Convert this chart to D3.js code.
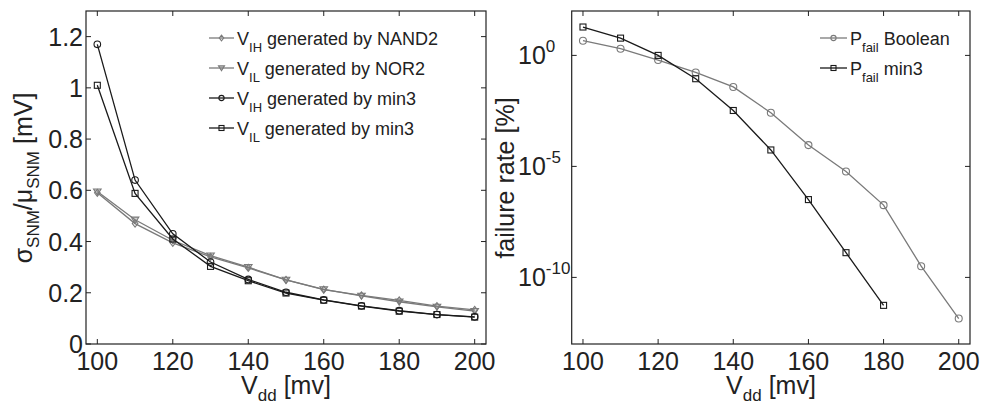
<!DOCTYPE html>
<html>
<head>
<meta charset="utf-8">
<script src="https://cdn.jsdelivr.net/npm/d3@7"></script>
<style>
  html, body { margin: 0; padding: 0; background: #fff; }
  svg { display: block; font-family: "Liberation Sans", Arial, Helvetica, sans-serif; }
</style>
</head>
<body>
<svg id="fig" width="981" height="403"></svg>
<script>
// Supply voltage sweep [mV]
const vdd = [100, 110, 120, 130, 140, 150, 160, 170, 180, 190, 200];
const vddMin3Fail = [100, 110, 120, 130, 140, 150, 160, 170, 180];

// Normalised SNM spread sigma/mu
const nand2VIH = [0.59, 0.47, 0.395, 0.34, 0.297, 0.25, 0.212, 0.19, 0.17, 0.148, 0.133];
const nor2VIL  = [0.595, 0.485, 0.405, 0.345, 0.30, 0.25, 0.213, 0.188, 0.165, 0.145, 0.128];
const min3VIH  = [1.17, 0.64, 0.43, 0.32, 0.252, 0.202, 0.172, 0.149, 0.13, 0.115, 0.106];
const min3VIL  = [1.01, 0.588, 0.41, 0.303, 0.247, 0.199, 0.171, 0.148, 0.128, 0.115, 0.105];

// Failure rate [%]
const pfailBoolean = [4.6, 2.0, 0.62, 0.17, 0.038, 2.6e-3, 9.1e-5, 5.9e-6, 1.8e-7, 3.2e-10, 1.4e-12];
const pfailMin3    = [19, 6.0, 1.0, 0.089, 3.3e-3, 5.5e-5, 3.2e-7, 1.3e-9, 5.5e-12];

// Tick values
const xTicks = [100, 120, 140, 160, 180, 200];
const yTicksLin = [0, 0.2, 0.4, 0.6, 0.8, 1, 1.2];
const yTicksLog = [1e0, 1e-5, 1e-10];
const logExponents = ["0", "-5", "-10"];

const GREY = "#7a7a7a";
const BLACK = "#1a1a1a";
const AXIS = "#222";
const TICK_FS = 25;
const LABEL_FS = 25;
const SUB_FS = 17;
const LEG_FS = 18;
const LEG_SUB_FS = 13;

const svg = d3.select("#fig");

// ---------- helpers ----------
function drawFrame(g, x, y, xt, yt) {
  const [x0, x1] = x.range();
  const [y0, y1] = y.range();
  const tl = 5;
  g.append("rect")
    .attr("x", x0).attr("y", y1)
    .attr("width", x1 - x0).attr("height", y0 - y1)
    .attr("fill", "none").attr("stroke", AXIS).attr("stroke-width", 1.2);
  xt.forEach(v => {
    const px = x(v);
    g.append("line").attr("x1", px).attr("x2", px).attr("y1", y0).attr("y2", y0 - tl)
      .attr("stroke", AXIS).attr("stroke-width", 1);
    g.append("line").attr("x1", px).attr("x2", px).attr("y1", y1).attr("y2", y1 + tl)
      .attr("stroke", AXIS).attr("stroke-width", 1);
    g.append("text").attr("x", px).attr("y", y0 + 26)
      .attr("text-anchor", "middle").attr("font-size", TICK_FS).attr("fill", AXIS)
      .text(v);
  });
  yt.forEach(v => {
    const py = y(v);
    g.append("line").attr("x1", x0).attr("x2", x0 + tl).attr("y1", py).attr("y2", py)
      .attr("stroke", AXIS).attr("stroke-width", 1);
    g.append("line").attr("x1", x1).attr("x2", x1 - tl).attr("y1", py).attr("y2", py)
      .attr("stroke", AXIS).attr("stroke-width", 1);
  });
}

function marker(g, type, cx, cy, color, s) {
  if (type === "circle") {
    g.append("circle").attr("cx", cx).attr("cy", cy).attr("r", s)
      .attr("fill", "none").attr("stroke", color).attr("stroke-width", 1.1);
  } else if (type === "square") {
    g.append("rect").attr("x", cx - s).attr("y", cy - s).attr("width", 2 * s).attr("height", 2 * s)
      .attr("fill", "none").attr("stroke", color).attr("stroke-width", 1.1);
  } else if (type === "diamond") {
    g.append("path").attr("d", `M${cx},${cy - s}L${cx + s * 0.8},${cy}L${cx},${cy + s}L${cx - s * 0.8},${cy}Z`)
      .attr("fill", "none").attr("stroke", color).attr("stroke-width", 1.1);
  } else if (type === "triangle") {
    g.append("path").attr("d", `M${cx - s},${cy - s * 0.7}L${cx + s},${cy - s * 0.7}L${cx},${cy + s * 0.9}Z`)
      .attr("fill", color).attr("fill-opacity", 0.35).attr("stroke", color).attr("stroke-width", 1.1);
  }
}

function drawSeries(g, x, y, xs, ys, color, type, size) {
  const line = d3.line().x((d, i) => x(xs[i])).y(d => y(d));
  g.append("path").datum(ys).attr("d", line)
    .attr("fill", "none").attr("stroke", color).attr("stroke-width", 1.3);
  ys.forEach((v, i) => marker(g, type, x(xs[i]), y(v), color, size));
}

function legendRow(g, lx, ly, len, color, type, size, main, sub, rest) {
  g.append("line").attr("x1", lx).attr("x2", lx + len).attr("y1", ly).attr("y2", ly)
    .attr("stroke", color).attr("stroke-width", 1.3);
  marker(g, type, lx + len / 2, ly, color, size);
  const t = g.append("text").attr("x", lx + len + 3).attr("y", ly + 6.5)
    .attr("font-size", LEG_FS).attr("fill", AXIS);
  t.append("tspan").text(main);
  t.append("tspan").attr("font-size", LEG_SUB_FS).attr("dy", 7).text(sub);
  t.append("tspan").attr("dy", -7).text(" " + rest);
}

function vddLabel(g, cx) {
  const t = g.append("text").attr("x", cx).attr("y", 394)
    .attr("text-anchor", "middle").attr("font-size", LABEL_FS).attr("fill", AXIS);
  t.append("tspan").text("V");
  t.append("tspan").attr("font-size", SUB_FS).attr("dy", 7).text("dd");
  t.append("tspan").attr("dy", -7).text(" [mv]");
}

// ---------- left panel ----------
const xL = d3.scaleLinear().domain([97, 203]).range([86, 486]);
const yL = d3.scaleLinear().domain([0, 1.3]).range([344, 11]);
const gL = svg.append("g");

drawFrame(gL, xL, yL, xTicks, yTicksLin);
yTicksLin.forEach(v => {
  gL.append("text").attr("x", 83).attr("y", yL(v) + 9)
    .attr("text-anchor", "end").attr("font-size", TICK_FS).attr("fill", AXIS)
    .text(v);
});

drawSeries(gL, xL, yL, vdd, nand2VIH, GREY, "diamond", 3.5);
drawSeries(gL, xL, yL, vdd, nor2VIL, GREY, "triangle", 3.8);
drawSeries(gL, xL, yL, vdd, min3VIH, BLACK, "circle", 3.3);
drawSeries(gL, xL, yL, vdd, min3VIL, BLACK, "square", 3);

legendRow(gL, 209, 38, 25, GREY, "diamond", 2.8, "V", "IH", "generated by NAND2");
legendRow(gL, 209, 68, 25, GREY, "triangle", 3, "V", "IL", "generated by NOR2");
legendRow(gL, 209, 98, 25, BLACK, "circle", 2.6, "V", "IH", "generated by min3");
legendRow(gL, 209, 128, 25, BLACK, "square", 2.5, "V", "IL", "generated by min3");

vddLabel(gL, 286);
{
  const t = gL.append("text")
    .attr("transform", "translate(32,178) rotate(-90)")
    .attr("text-anchor", "middle").attr("font-size", LABEL_FS).attr("fill", AXIS);
  t.append("tspan").text("σ");
  t.append("tspan").attr("font-size", SUB_FS).attr("dy", 7).text("SNM");
  t.append("tspan").attr("dy", -7).text("/μ");
  t.append("tspan").attr("font-size", SUB_FS).attr("dy", 7).text("SNM");
  t.append("tspan").attr("dy", -7).text(" [mV]");
}

// ---------- right panel ----------
const xR = d3.scaleLinear().domain([97, 203]).range([571.7, 970]);
const yR = d3.scaleLog().domain([1e-13, 1e2]).range([344, 11]);
const gR = svg.append("g");

drawFrame(gR, xR, yR, xTicks, yTicksLog);
yTicksLog.forEach((v, i) => {
  const t = gR.append("text").attr("x", 518).attr("y", yR(v) + 9)
    .attr("font-size", TICK_FS).attr("fill", AXIS);
  t.append("tspan").text("10");
  t.append("tspan").attr("font-size", SUB_FS).attr("dy", -12).text(logExponents[i]);
});

drawSeries(gR, xR, yR, vdd, pfailBoolean, GREY, "circle", 3.5);
drawSeries(gR, xR, yR, vddMin3Fail, pfailMin3, BLACK, "square", 3);

legendRow(gR, 820, 38, 27, GREY, "circle", 2.6, "P", "fail", "Boolean");
legendRow(gR, 820, 68, 27, BLACK, "square", 2.5, "P", "fail", "min3");

vddLabel(gR, 771);
gR.append("text")
  .attr("transform", "translate(514,178) rotate(-90)")
  .attr("text-anchor", "middle").attr("font-size", LABEL_FS).attr("fill", AXIS)
  .text("failure rate [%]");
</script>
</body>
</html>
